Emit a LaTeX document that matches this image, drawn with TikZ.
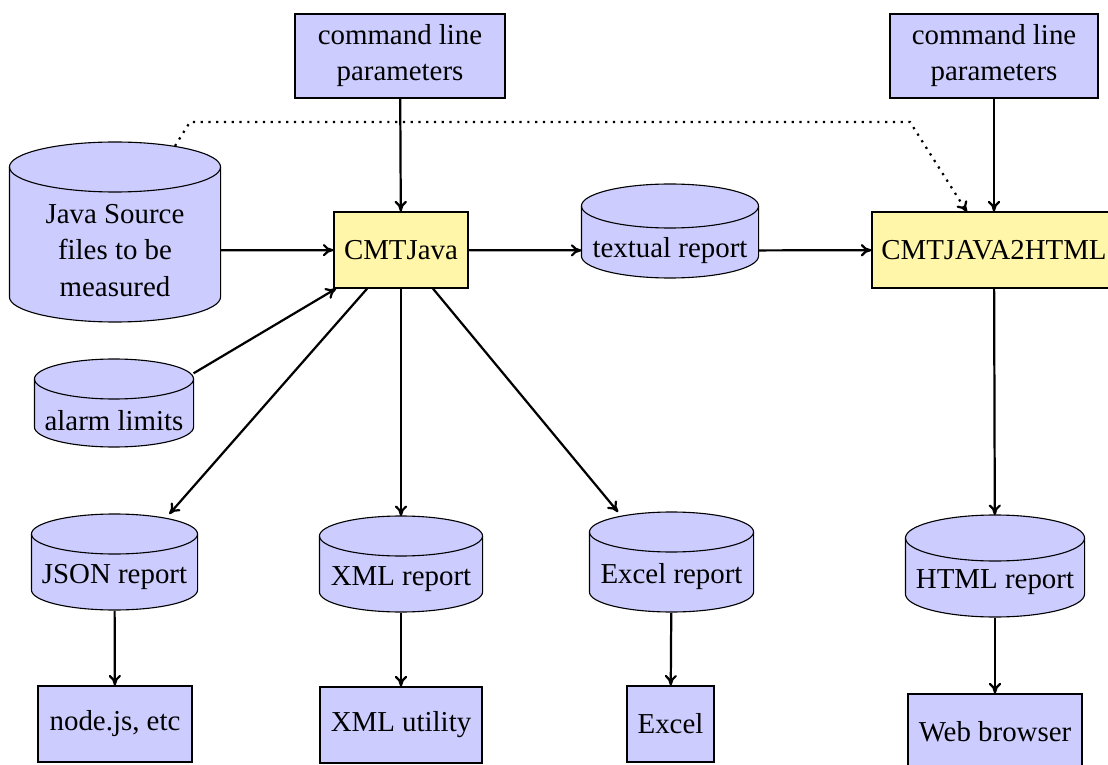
\documentclass[tikz,border=0pt]{standalone}
\usepackage{fontspec}
\setmainfont{Liberation Serif}
\usetikzlibrary{calc,backgrounds,arrows.meta}
% one drawing unit
\def\pxu{0.36pt}
\definecolor{procfill}{HTML}{FFF6AA}
\definecolor{datafill}{HTML}{CCCCFF}
\tikzset{
  base/.style={font=\fontsize{10.4pt}{13pt}\selectfont, align=center, inner sep=0pt},
  ioblock/.style={base, draw, rectangle, fill=datafill},
  procblock/.style={base, draw, rectangle, fill=procfill},
  % text area of a data store; the drum outline is drawn behind it
  store/.style={base, rectangle, anchor=north},
  drumline/.style={draw, fill=datafill},
  flow/.style={-{To[length=3.8pt,width=4.4pt]}, thick},
  hint/.style={flow, dotted},
}
% #1 node, #2 drum height, #3 radius of the end ellipses (drawing units)
\newcommand\drum[3]{%
  \path[drumline] let \p1=(#1.north west), \p2=(#1.north east), \n1={(\x2-\x1)/2} in
    (\x1,\y1-#3*\pxu) -- (\x1,\y1-#2*\pxu+#3*\pxu)
    arc[start angle=180, end angle=360, x radius=\n1, y radius=#3*\pxu]
    -- (\x2,\y1-#3*\pxu)
    arc[start angle=0, end angle=180, x radius=\n1, y radius=#3*\pxu] -- cycle;
  \draw let \p1=(#1.north west), \p2=(#1.north east), \n1={(\x2-\x1)/2} in
    (\x1,\y1-#3*\pxu) arc[start angle=180, end angle=360, x radius=\n1, y radius=#3*\pxu];
}
\begin{document}
\begin{tikzpicture}[x=\pxu, y=-\pxu]
\useasboundingbox (0,0) rectangle (1108,765);

% inputs
\node[ioblock, minimum width=210*\pxu, minimum height=84*\pxu] (cmdA) at (400,56) {command line\\parameters};
\node[ioblock, minimum width=208*\pxu, minimum height=84*\pxu] (cmdB) at (994,56) {command line\\parameters};
\node[store, minimum width=210*\pxu, minimum height=216*\pxu] (src) at (115,142) {Java Source\\files to be\\measured};
\node[store, minimum width=158*\pxu, minimum height=122*\pxu] (alarm) at (114,359) {alarm limits};

% tools
\node[procblock, minimum width=134*\pxu, minimum height=76*\pxu] (cmt) at (401,250) {CMTJava};
\node[store, minimum width=176*\pxu, minimum height=132*\pxu] (txt) at (670,184) {textual report};
\node[procblock, minimum width=244*\pxu, minimum height=76*\pxu] (html) at (994,250) {CMTJAVA2HTML};

% reports
\node[store, minimum width=165*\pxu, minimum height=124*\pxu] (json) at (114.5,514) {JSON report};
\node[store, minimum width=162*\pxu, minimum height=126*\pxu] (xml) at (401,516) {XML report};
\node[store, minimum width=163*\pxu, minimum height=128*\pxu] (xls) at (671.5,512) {Excel report};
\node[store, minimum width=178*\pxu, minimum height=134*\pxu] (htmlrep) at (995,515) {HTML report};

% consumers
\node[ioblock, minimum width=154*\pxu, minimum height=76*\pxu] (node) at (115,724) {node.js, etc};
\node[ioblock, minimum width=162*\pxu, minimum height=76*\pxu] (xmlu) at (401,725) {XML utility};
\node[ioblock, minimum width=87*\pxu, minimum height=76*\pxu] (excel) at (670.5,724) {Excel};
\node[ioblock, minimum width=174*\pxu, minimum height=76*\pxu] (web) at (995,732) {Web browser};

% drum outlines of the data stores
\begin{scope}[on background layer]
  \drum{src}{180}{25}
  \drum{alarm}{88}{20}
  \drum{txt}{94}{22}
  \drum{json}{96}{20}
  \drum{xml}{96}{20}
  \drum{xls}{100}{20}
  \drum{htmlrep}{102}{23}
\end{scope}

% connectors
\draw[flow] (cmdA) -- (cmt);
\draw[flow] (cmdB) -- (html);
\draw[flow] (src) -- (cmt);
\draw[flow] (alarm) -- (cmt);
\draw[flow] (cmt) -- (txt);
\draw[flow] (txt) -- (html);
\draw[flow] (cmt) -- (json);
\draw[flow] (cmt) -- (xml);
\draw[flow] (cmt) -- (xls);
\draw[flow] (html) -- (htmlrep);
% the text areas reach below the drums, so these start higher up
\draw[flow, shorten <=-28*\pxu] (json) -- (node);
\draw[flow, shorten <=-30*\pxu] (xml) -- (xmlu);
\draw[flow, shorten <=-28*\pxu] (xls) -- (excel);
\draw[flow, shorten <=-32*\pxu] (htmlrep) -- (web);

% source files also feed the HTML generator
\coordinate (hintStart) at (175,146);
\coordinate (bendA) at (190,122);
\coordinate (bendB) at (910,122);
\coordinate (hintEnd) at (967,212);
\draw[hint] (hintStart) -- (bendA) -- (bendB) -- (hintEnd);
\end{tikzpicture}
\end{document}
